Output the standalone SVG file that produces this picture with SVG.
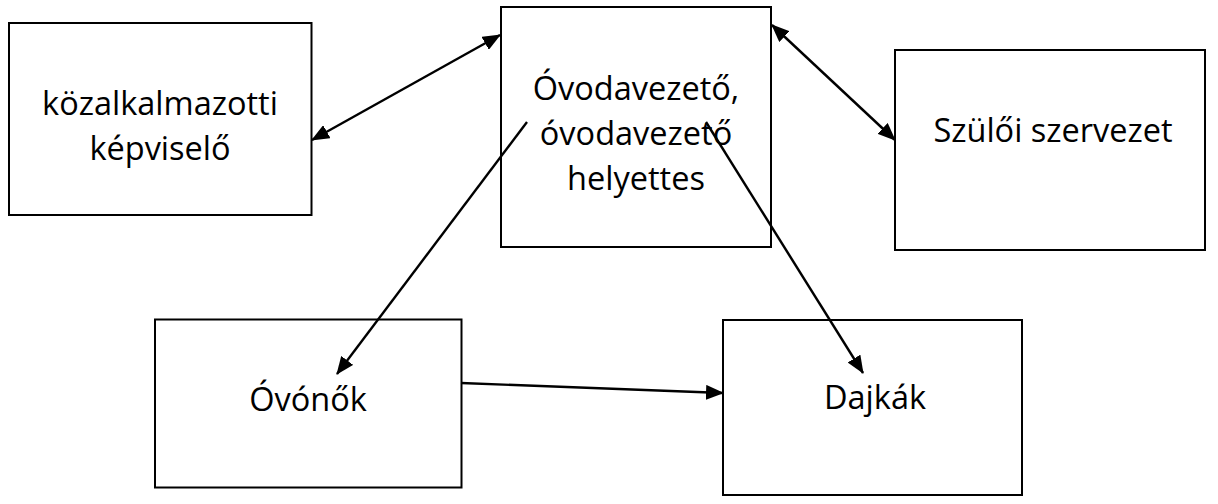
<svg xmlns="http://www.w3.org/2000/svg" width="1218" height="504" viewBox="0 0 1218 504">
<style>
.box{fill:#fff;stroke:#000;stroke-width:2}
.lbl{font-family:"Open Sans","Noto Sans",sans-serif;font-size:32.5px;fill:#000;text-anchor:middle}
.conn{stroke:#000;stroke-width:2.4;fill:none}
</style>
<defs>
<marker id="ah" markerUnits="userSpaceOnUse" markerWidth="18" markerHeight="15" refX="17" refY="7.5" orient="auto-start-reverse" viewBox="0 0 18 15">
<path d="M0,0 L18,7.5 L0,15 z" fill="#000"/>
</marker>
</defs>
<rect width="1218" height="504" fill="#fff"/>
<g id="kozalkalmazotti">
<rect class="box" x="9" y="23" width="302.5" height="192"/>
<text class="lbl" x="160" y="115">közalkalmazotti</text>
<text class="lbl" x="160" y="160">képviselő</text>
</g>
<g id="ovodavezeto">
<rect class="box" x="501" y="7" width="270" height="240"/>
<text class="lbl" x="636" y="100">Óvodavezető,</text>
<text class="lbl" x="636" y="145">óvodavezető</text>
<text class="lbl" x="636" y="190">helyettes</text>
</g>
<g id="szuloi">
<rect class="box" x="895" y="50" width="310" height="200"/>
<text class="lbl" x="1053" y="142">Szülői szervezet</text>
</g>
<g id="ovonok">
<rect class="box" x="155" y="319.5" width="306.5" height="168"/>
<text class="lbl" x="308" y="411">Óvónők</text>
</g>
<g id="dajkak">
<rect class="box" x="723" y="320" width="299" height="175"/>
<text class="lbl" x="875" y="409">Dajkák</text>
</g>
<g id="connectors">
<line class="conn" x1="312" y1="140" x2="500" y2="35" marker-start="url(#ah)" marker-end="url(#ah)"/>
<line class="conn" x1="772" y1="25" x2="895" y2="140" marker-start="url(#ah)" marker-end="url(#ah)"/>
<line class="conn" x1="527" y1="122" x2="337" y2="374" marker-end="url(#ah)"/>
<line class="conn" x1="706" y1="122" x2="863" y2="373" marker-end="url(#ah)"/>
<line class="conn" x1="461" y1="383" x2="723" y2="393" marker-end="url(#ah)"/>
</g>
</svg>
